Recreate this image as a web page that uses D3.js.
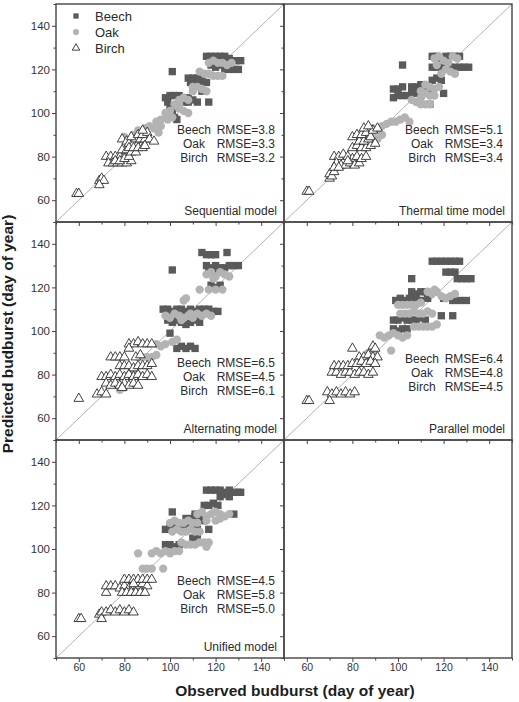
<!DOCTYPE html>
<html>
<head>
<meta charset="utf-8">
<script src="https://cdn.jsdelivr.net/npm/d3@7"></script>
<style>
  body { margin: 0; background: #fff; }
  text { font-family: "Liberation Sans", Arial, sans-serif; }
</style>
</head>
<body>
<svg id="chart" width="519" height="702"></svg>
<script>
// ---- data: [observed, predicted] day of year ----
const models = ["Sequential model", "Thermal time model", "Alternating model", "Parallel model", "Unified model"];
const species = ["Beech", "Oak", "Birch"];
const rmseBeech = ["3.8", "5.1", "6.5", "6.4", "4.5"];
const rmseOak = ["3.3", "3.4", "4.5", "4.8", "5.8"];
const rmseBirch = ["3.2", "3.4", "6.1", "4.5", "5.0"];
const majorTicks = [60, 80, 100, 120, 140];
const minorTicks = [50, 70, 90, 110, 130, 150];

const seqBeech = [[101,119],[116,126],[118,126],[120,126],[122,126],[124,126],[126,125],[127,124],[129,124],[131,124],
  [124,120],[126,120],[128,120],[130,120],[118,122],[120,121],[122,122],[108,116],[110,116],[112,116],[114,116],
  [116,114],[111,113],[113,113],[109,114],[110,111],[114,110],[98,107],[100,108],[102,108],[104,108],[106,107],
  [108,107],[110,106],[106,105],[108,105],[112,105],[117,105],[99,105],[100,103],[102,98],[103,97],[101,100]];
const seqOak = [[117,123],[119,124],[121,123],[123,123],[125,122],[127,123],[113,119],[115,118],[117,118],[119,117],
  [121,117],[123,117],[110,112],[112,112],[114,111],[116,110],[110,110],[104,106],[106,107],[108,106],[104,104],
  [102,104],[104,102],[106,101],[108,100],[100,101],[98,100],[101,98],[99,97],[96,97],[94,96],[96,94],[91,94],
  [93,93],[95,91],[89,93],[86,92],[84,90],[80,89],[90,88]];
const seqBirch = [[59,63],[60,63],[69,69],[70,70],[71,69],[69,67],[72,80],[74,80],[76,80],[78,80],[80,80],[73,77],
  [75,77],[77,77],[79,77],[81,77],[83,78],[76,78],[78,78],[80,79],[82,80],[79,83],[81,83],[83,82],[85,82],[79,88],
  [81,87],[82,86],[84,86],[86,86],[88,86],[85,88],[87,88],[89,88],[83,89],[86,90],[88,90],[90,91],[88,92],[82,84],
  [84,84],[86,84],[88,84],[91,88],[93,87],[89,85]];

const thBeech = [[102,122],[115,126],[117,126],[119,125],[121,126],[123,126],[125,126],[127,126],[115,121],[117,121],
  [119,121],[121,121],[123,121],[125,121],[127,121],[129,121],[131,121],[115,115],[117,116],[119,115],[98,111],
  [100,111],[102,112],[106,112],[108,112],[110,113],[112,112],[114,111],[98,107],[100,108],[102,108],[104,108],
  [106,109],[108,109],[110,108],[112,109],[120,109],[114,104]];
const thOak = [[116,125],[118,126],[120,124],[122,123],[124,126],[126,125],[117,122],[121,120],[123,119],[119,118],
  [125,118],[112,113],[114,112],[116,111],[118,112],[110,110],[112,109],[114,108],[116,108],[106,106],[108,105],
  [110,104],[112,104],[114,104],[110,107],[101,97],[103,98],[105,96],[99,96],[97,96],[95,95],[93,94],[91,92],
  [89,91],[93,90],[91,88],[89,93]];
const thBirch = [[60,64],[61,64],[70,70],[70,72],[71,71],[72,73],[72,80],[74,80],[76,81],[78,80],[80,79],[82,80],
  [73,77],[75,76],[77,76],[79,77],[81,76],[83,77],[72,75],[74,75],[78,78],[84,79],[86,80],[80,84],[82,85],[84,84],
  [86,84],[88,85],[83,87],[85,87],[87,88],[80,89],[82,90],[84,90],[86,91],[88,89],[89,92],[91,93],[85,93],[87,94],[90,86]];

const altBeech = [[114,136],[116,135],[118,135],[120,135],[125,136],[101,128],[116,130],[118,129],[120,130],[122,129],
  [124,129],[126,130],[128,130],[130,130],[117,128],[121,128],[118,121],[122,121],[120,120],[97,110],[99,110],
  [101,109],[103,110],[105,110],[107,109],[109,110],[111,109],[113,110],[115,110],[117,110],[119,109],[121,109],
  [99,105],[101,104],[103,105],[105,104],[107,103],[109,104],[111,105],[113,104],[100,99],[103,92],[105,93],
  [107,92],[109,93],[111,92]];
const altOak = [[116,126],[118,127],[120,125],[122,127],[124,126],[126,125],[119,124],[113,119],[117,119],[120,119],
  [123,119],[107,115],[106,114],[98,107],[100,106],[102,108],[104,107],[106,106],[108,107],[110,106],[112,108],
  [114,107],[116,108],[118,107],[105,105],[109,108],[103,96],[101,95],[94,94],[96,93],[98,94],[86,88],[88,88],
  [90,88],[92,88],[94,89],[82,80],[84,81],[86,80],[78,73],[80,74]];
const altBirch = [[60,69],[68,71],[70,72],[72,71],[70,79],[72,79],[74,80],[76,79],[78,80],[80,79],[82,80],[84,79],
  [86,80],[88,79],[90,80],[92,79],[72,76],[74,75],[76,76],[78,75],[80,76],[82,75],[84,76],[86,75],[79,74],[74,88],
  [76,88],[78,88],[80,88],[85,88],[87,89],[78,84],[80,84],[82,84],[84,83],[86,84],[88,84],[90,84],[92,85],[82,94],
  [84,94],[86,95],[88,94],[90,94],[92,94],[82,92]];

const parBeech = [[115,132],[117,132],[119,132],[121,132],[123,132],[125,132],[127,132],[121,127],[123,127],[125,127],
  [126,124],[128,124],[130,124],[132,124],[106,124],[106,118],[108,117],[110,118],[112,118],[114,117],[116,118],
  [99,114],[101,115],[103,114],[105,115],[107,114],[110,114],[113,115],[120,115],[124,114],[127,114],[130,114],
  [98,105],[100,105],[102,106],[104,105],[106,105],[108,105],[110,106],[112,105],[119,107],[124,107],[98,101],
  [100,100],[102,101],[104,101]];
const parOak = [[113,118],[115,117],[117,118],[119,116],[121,115],[123,116],[125,117],[116,119],[100,112],[102,112],
  [104,112],[106,112],[108,112],[110,113],[101,108],[103,108],[105,108],[107,109],[109,108],[111,108],[113,109],
  [115,108],[107,102],[109,102],[111,102],[113,102],[115,102],[117,103],[92,98],[94,97],[96,98],[98,99],[100,98],
  [102,97],[104,98],[97,91],[88,88],[90,89],[87,90],[89,86]];
const parBirch = [[60,68],[61,68],[69,72],[71,71],[73,72],[75,71],[77,72],[79,71],[81,72],[70,68],[71,81],[73,81],
  [75,80],[77,81],[79,81],[81,80],[83,81],[85,81],[87,80],[89,81],[72,84],[74,84],[76,84],[78,84],[80,85],[80,92],
  [89,93],[90,92],[83,88],[85,88],[87,89],[89,88],[91,88],[82,85],[84,86],[86,85],[88,86],[90,85]];

const uniBeech = [[116,127],[118,127],[120,127],[122,127],[124,126],[126,127],[128,126],[130,126],[131,126],[122,124],
  [124,125],[126,124],[101,117],[111,116],[115,120],[117,120],[119,121],[121,120],[128,116],[107,114],[109,114],
  [111,115],[113,114],[115,113],[98,109],[100,110],[102,110],[104,109],[106,110],[108,111],[110,110],[112,109],
  [117,109],[110,105],[112,105],[98,102],[100,102],[102,101],[104,102]];
const uniOak = [[112,116],[114,117],[116,115],[118,116],[120,117],[122,116],[124,115],[126,116],[120,113],[122,114],
  [116,113],[100,112],[102,113],[104,112],[106,112],[108,113],[110,112],[112,112],[101,108],[103,109],[105,108],
  [107,108],[109,109],[111,108],[113,108],[105,103],[107,102],[109,102],[111,102],[113,103],[115,103],[117,103],
  [116,101],[86,98],[92,98],[94,99],[96,98],[98,99],[100,98],[102,99],[104,99],[88,91],[90,91],[92,91],[97,91]];
const uniBirch = [[60,68],[61,68],[69,70],[70,71],[70,68],[72,71],[74,72],[76,71],[78,72],[80,71],[82,72],[84,71],
  [72,80],[72,83],[74,83],[76,83],[78,82],[80,83],[82,82],[84,83],[86,83],[88,84],[90,83],[79,80],[81,80],[83,80],
  [85,80],[87,80],[89,80],[80,86],[82,86],[84,86],[86,86],[88,86],[90,86],[92,86],[84,84]];

const beechSets = [seqBeech, thBeech, altBeech, parBeech, uniBeech];
const oakSets = [seqOak, thOak, altOak, parOak, uniOak];
const birchSets = [seqBirch, thBirch, altBirch, parBirch, uniBirch];

// ---- layout ----
const leftM = 56, topM = 4, panelW = 228, panelH = 218;
const rmseTop = [125, 125, 140, 136, 140];
const ink = "#2b2b2b";

const svg = d3.select("#chart");
const x = d3.scaleLinear().domain([50, 150]).range([0, panelW]);
const y = d3.scaleLinear().domain([50, 150]).range([panelH, 0]);

const sym = {
  Beech: d3.symbol().type(d3.symbolSquare).size(54),
  Oak: d3.symbol().type(d3.symbolCircle).size(54),
  Birch: d3.symbol().type(d3.symbolTriangle).size(40)
};
const fills = { Beech: "#5a5a5a", Oak: "#b3b3b3", Birch: "#fff" };
const strokes = { Beech: "none", Oak: "none", Birch: "#2e2e2e" };

for (let i = 0; i < 6; i++) {
  let col = i % 2, row = Math.floor(i / 2);
  let g = svg.append("g")
    .attr("transform", `translate(${leftM + col * panelW},${topM + row * panelH})`);

  // axes (outward ticks), labels only on outer panels
  let yMaj = d3.axisLeft(y).tickValues(majorTicks).tickSize(4).tickPadding(2)
    .tickFormat(col === 0 ? d3.format("d") : "");
  let yMin = d3.axisLeft(y).tickValues(minorTicks).tickSize(2.5).tickFormat("");
  let xMaj = d3.axisBottom(x).tickValues(majorTicks).tickSize(4).tickPadding(2)
    .tickFormat(row === 2 ? d3.format("d") : "");
  let xMin = d3.axisBottom(x).tickValues(minorTicks).tickSize(2.5).tickFormat("");

  g.append("g").attr("class", "axis").call(yMaj);
  g.append("g").attr("class", "axis").call(yMin);
  g.append("g").attr("class", "axis xlab").attr("transform", `translate(0,${panelH})`).call(xMaj);
  g.append("g").attr("class", "axis").attr("transform", `translate(0,${panelH})`).call(xMin);
  g.selectAll(".axis .domain").remove();
  g.selectAll(".axis line").attr("stroke", "#444").attr("stroke-width", 1);
  g.selectAll(".axis text").attr("fill", "#333")
    .style("font-family", '"Liberation Sans", Arial, sans-serif')
    .style("font-size", "11.5px");
  g.selectAll(".xlab text").style("font-size", "10.5px");

  if (i < 5) {
    // 1:1 line
    g.append("line")
      .attr("x1", x(50)).attr("y1", y(50))
      .attr("x2", x(150)).attr("y2", y(150))
      .attr("stroke", "#a8a8a8").attr("stroke-width", 0.9);

    let sets = { Beech: beechSets[i], Oak: oakSets[i], Birch: birchSets[i] };
    species.forEach(sp => {
      g.append("g").selectAll("path")
        .data(sets[sp])
        .join("path")
        .attr("d", sym[sp])
        .attr("transform", d => `translate(${x(d[0])},${y(d[1])})`)
        .attr("fill", fills[sp])
        .attr("stroke", strokes[sp])
        .attr("stroke-width", 0.9);
    });

    // RMSE block
    let rx = panelW - 9;
    let rmse = [rmseBeech[i], rmseOak[i], rmseBirch[i]];
    species.forEach((sp, k) => {
      let ty = rmseTop[i] + k * 14 + 4.5;
      g.append("text").attr("x", rx - 81).attr("y", ty)
        .attr("text-anchor", "middle").attr("fill", ink)
        .style("font-size", "12px").text(sp);
      g.append("text").attr("x", rx).attr("y", ty)
        .attr("text-anchor", "end").attr("fill", ink)
        .style("font-size", "12px").text("RMSE=" + rmse[k]);
    });

    g.append("text")
      .attr("x", panelW - 7).attr("y", panelH - 7.5)
      .attr("text-anchor", "end").attr("fill", ink)
      .style("font-size", "12px")
      .text(models[i]);
  }

  // frame
  g.append("rect")
    .attr("width", panelW).attr("height", panelH)
    .attr("fill", "none").attr("stroke", "#444").attr("stroke-width", 1.4);

  if (i === 0) {
    // legend
    let legSym = {
      Beech: d3.symbol().type(d3.symbolSquare).size(28),
      Oak: d3.symbol().type(d3.symbolCircle).size(30),
      Birch: d3.symbol().type(d3.symbolTriangle).size(24)
    };
    species.forEach((sp, k) => {
      let ly = 12 + k * 16;
      g.append("path").attr("d", legSym[sp])
        .attr("transform", `translate(20,${ly})`)
        .attr("fill", fills[sp]).attr("stroke", strokes[sp]).attr("stroke-width", 0.9);
      g.append("text").attr("x", 39).attr("y", ly + 4.5)
        .attr("fill", ink).style("font-size", "13px").text(sp);
    });
  }
}

// axis titles
svg.append("text")
  .attr("transform", "translate(13,334) rotate(-90)")
  .attr("text-anchor", "middle")
  .attr("fill", "#1e1e1e")
  .style("font-size", "15.5px").style("font-weight", "bold")
  .text("Predicted budburst (day of year)");

svg.append("text")
  .attr("x", 295).attr("y", 696)
  .attr("text-anchor", "middle")
  .attr("fill", "#1e1e1e")
  .style("font-size", "15.5px").style("font-weight", "bold")
  .text("Observed budburst (day of year)");
</script>
</body>
</html>
